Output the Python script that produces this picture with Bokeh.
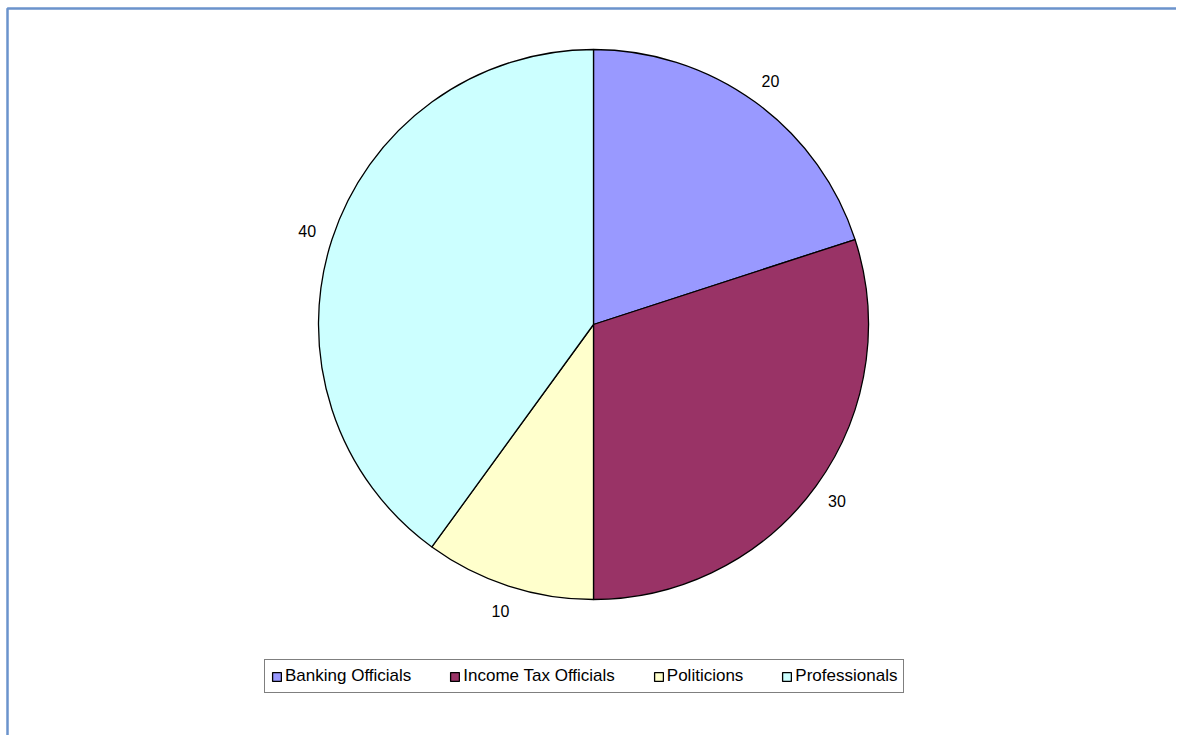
import math
from bokeh.plotting import figure
from bokeh.models import Range1d, ColumnDataSource, Legend, LegendItem
from bokeh.core.properties import value
from bokeh.embed import file_html
from bokeh.resources import INLINE

categories = ["Banking Officials", "Income Tax Officials", "Politicions", "Professionals"]
values = [20, 30, 10, 40]
colors = ["#9999FF", "#993366", "#FFFFCC", "#CCFFFF"]

FONT = "Liberation Sans"
W, H = 1176, 735
CX, CY = 593, 324  # pie centre inside the canvas (pixels from left / top)
R = 275
LABEL_R = 301

total = float(sum(values))
starts, ends = [], []
cum = 0.0
for v in values:
    starts.append(math.pi / 2 - 2 * math.pi * cum / total)
    cum += v
    ends.append(math.pi / 2 - 2 * math.pi * cum / total)
mids = [(s + e) / 2 for s, e in zip(starts, ends)]

src = ColumnDataSource(dict(
    cat=categories, val=values, color=colors,
    start=starts, end=ends,
    lx=[LABEL_R * math.cos(m) for m in mids],
    ly=[LABEL_R * math.sin(m) for m in mids],
    lab=[str(v) for v in values],
))

p = figure(width=W, height=H, output_backend="svg", toolbar_location=None,
           x_range=Range1d(-CX, W - CX), y_range=Range1d(CY - H, CY),
           min_border=0, background_fill_color="white", border_fill_color="white")
p.axis.visible = False
p.grid.visible = False
p.outline_line_color = None

# page border (only top and left edges fall inside the picture)
x0, x1 = p.x_range.start, p.x_range.end
y0, y1 = p.y_range.start, p.y_range.end
p.line([x0 + 7, x0 + 7, x1 + 10], [y0 - 10, y1 - 8, y1 - 8], line_color="#6b93cc", line_width=2.5)

r = p.wedge(x=0, y=0, radius=R, start_angle="start", end_angle="end", direction="clock",
            fill_color="color", line_color="black", line_width=1.3, source=src)

p.text(x="lx", y="ly", text="lab", source=src, text_align="center", text_baseline="middle",
       text_font=value(FONT), text_font_size="16px", text_color="black")

items = [LegendItem(label=c, renderers=[r], index=i) for i, c in enumerate(categories)]
legend = Legend(items=items, orientation="horizontal", location=(264, 42),
                glyph_width=11, glyph_height=11, label_height=18, label_standoff=3,
                spacing=38, padding=6, margin=0,
                label_text_font=FONT, label_text_font_size="17px", label_text_color="black",
                border_line_color="black", border_line_width=1,
                background_fill_color="white", background_fill_alpha=1.0)
p.add_layout(legend, "center")

open("out.html", "w").write(file_html(p, INLINE))
